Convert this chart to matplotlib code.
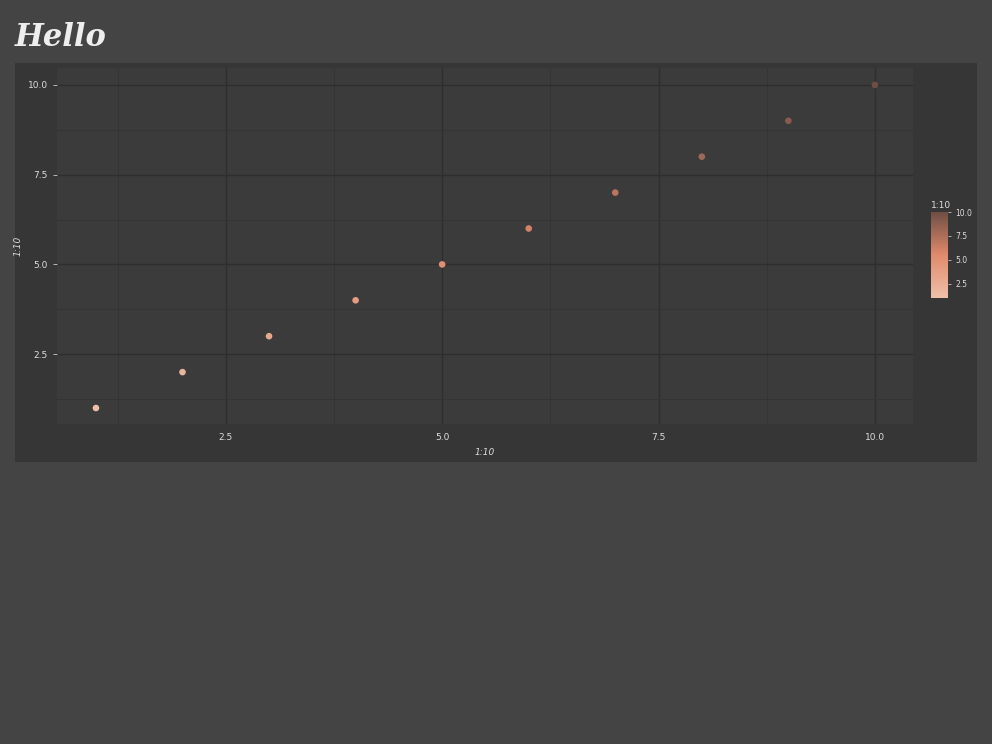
import matplotlib
matplotlib.use("Agg")
import matplotlib.pyplot as plt
from matplotlib.colors import LinearSegmentedColormap
from matplotlib.patches import Rectangle
import numpy as np

x = [1, 2, 3, 4, 5, 6, 7, 8, 9, 10]
y = [1, 2, 3, 4, 5, 6, 7, 8, 9, 10]
c = [1, 2, 3, 4, 5, 6, 7, 8, 9, 10]
ticks = [2.5, 5.0, 7.5, 10.0]

W, H = 992, 744
fig = plt.figure(figsize=(W/100, H/100), dpi=100, facecolor="#444444")
fig.patches.append(Rectangle((15/W, 1-462/H), 962/W, 399/H, transform=fig.transFigure,
                             facecolor="#363636", edgecolor="none", zorder=-5))
fig.text(15/W, 1-37/H, "Hello", fontsize=22, fontweight="bold", fontstyle="italic",
         color="#eeeeee", va="center", family="DejaVu Serif")

cmap = LinearSegmentedColormap.from_list("c", ["#eec0aa", "#e08a6c", "#6e4e44"])
ax = fig.add_axes([57/W, 1-424/H, 856/W, 356/H])
ax.set_zorder(2)
ax.set_facecolor("#3b3b3b")
sc = ax.scatter(x, y, c=c, cmap=cmap, s=14, vmin=1, vmax=10, zorder=3)
ax.set_xlim(0.55, 10.44)
ax.set_ylim(0.555, 10.47)
ax.set_xticks(ticks)
ax.set_yticks(ticks)
ax.set_xticklabels([f"{t:.1f}" for t in ticks])
ax.set_yticklabels([f"{t:.1f}" for t in ticks])
ax.set_xticks([1.25, 3.75, 6.25, 8.75], minor=True)
ax.set_yticks([1.25, 3.75, 6.25, 8.75], minor=True)
ax.grid(True, which="major", color="#2e2e2e", lw=1.0)
ax.grid(True, which="minor", color="#333333", lw=0.6)
for s in ax.spines.values():
    s.set_visible(False)
ax.tick_params(which="major", colors="#cccccc", labelsize=6.5, length=3, width=0.6, labelcolor="#dddddd")
ax.tick_params(which="minor", length=0)
ax.tick_params(axis="x", colors="#363636", labelcolor="#dddddd")
ax.set_xlabel("1:10", fontsize=6.5, color="#dddddd", fontstyle="italic")
ax.set_ylabel("1:10", fontsize=6.5, color="#dddddd", fontstyle="italic")

cax = fig.add_axes([931/W, 1-298/H, 17/W, 86/H])
cax.set_zorder(2)
cb = fig.colorbar(sc, cax=cax, ticks=ticks)
cb.outline.set_visible(False)
cb.ax.tick_params(labelsize=5.5, colors="#dddddd", length=2, width=0.5)
cb.ax.set_yticklabels([f"{t:.1f}" for t in ticks])
cax.set_title("1:10", fontsize=6.5, color="#dddddd", loc="left", pad=3)

fig.savefig("out.png", dpi=100, facecolor=fig.get_facecolor())
